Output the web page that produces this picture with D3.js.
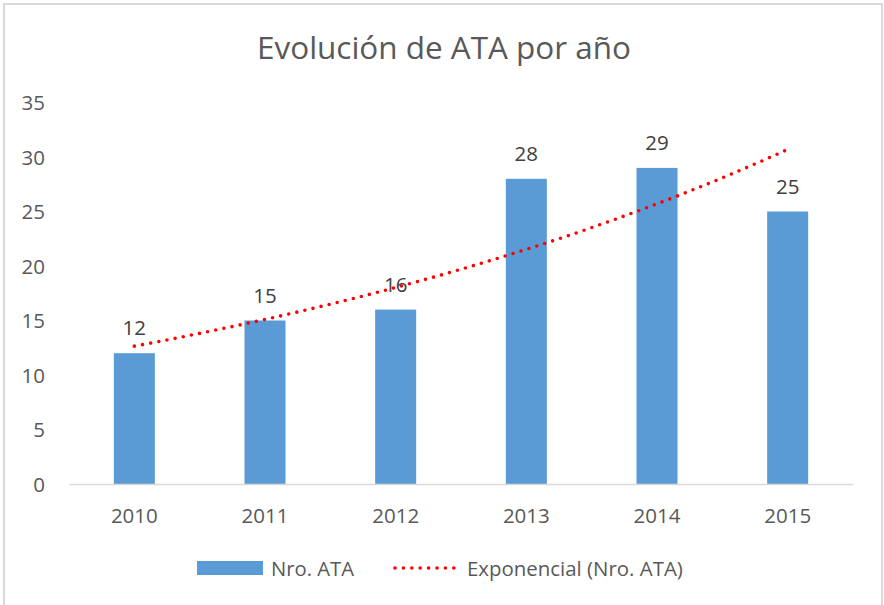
<!DOCTYPE html>
<html>
<head>
<meta charset="utf-8">
<script src="https://cdn.jsdelivr.net/npm/d3@7"></script>
<style>
  html, body { margin: 0; padding: 0; background: #fff; }
  svg { display: block; }
  text { font-family: "Open Sans", "Noto Sans", sans-serif; }
</style>
</head>
<body>
<svg id="chart" width="884" height="605"></svg>
<script>
const title = "Evolución de ATA por año";
const categories = ["2010", "2011", "2012", "2013", "2014", "2015"];
const values = [12, 15, 16, 28, 29, 25];
const yTicks = [0, 5, 10, 15, 20, 25, 30, 35];
const seriesName = "Nro. ATA";
const trendName = "Exponencial (Nro. ATA)";

const svg = d3.select("#chart");
const plot = { left: 69, right: 853, top: 102.5, bottom: 484 };

// outer border
svg.append("rect")
  .attr("x", 4).attr("y", 4).attr("width", 878).attr("height", 610)
  .attr("fill", "#fff").attr("stroke", "#d9d9d9").attr("stroke-width", 2);

const x = d3.scaleBand().domain(categories).range([plot.left, plot.right]).padding(0);
const y = d3.scaleLinear().domain([0, 35]).range([plot.bottom, plot.top]);

function fit(sel, target) {
  const node = sel.node();
  const fs = parseFloat(sel.attr("font-size"));
  const w = node.getComputedTextLength();
  if (w > 0) sel.attr("font-size", (fs * target / w).toFixed(2));
  return sel;
}

// title
const t = svg.append("text")
  .attr("x", 444).attr("y", 59)
  .attr("text-anchor", "middle")
  .attr("font-size", 30)
  .attr("fill", "#595959")
  .text(title);
fit(t, 374);

// y axis labels
const yAxis = d3.axisLeft(y).tickValues(yTicks).tickSize(0).tickPadding(0);
const gy = svg.append("g").attr("transform", `translate(45,0)`).call(yAxis);
gy.select(".domain").remove();
gy.selectAll("text")
  .attr("font-size", 20.5)
  .attr("fill", "#595959")
  .attr("font-family", "'Open Sans', sans-serif")
  .attr("dy", "0.35em");

// bars
const barW = x.bandwidth() * 0.314;
svg.append("g").selectAll("rect")
  .data(values)
  .join("rect")
  .attr("x", (d, i) => x(categories[i]) + (x.bandwidth() - barW) / 2)
  .attr("y", d => y(d))
  .attr("width", barW)
  .attr("height", d => y(0) - y(d))
  .attr("fill", "#5b9bd5");

// x axis
const xAxis = d3.axisBottom(x).tickSize(0).tickPadding(0);
const gx = svg.append("g").attr("transform", `translate(0,${plot.bottom})`).call(xAxis);
gx.select(".domain").attr("stroke", "#d9d9d9").attr("stroke-width", 1.5);
gx.selectAll("text")
  .attr("font-size", 20.5)
  .attr("fill", "#595959")
  .attr("font-family", "'Open Sans', sans-serif")
  .attr("dy", null)
  .attr("y", 39);

// exponential trendline (least squares fit on ln(y))
const n = values.length;
const xs = values.map((d, i) => i + 1);
const ls = values.map(d => Math.log(d));
const mx = d3.mean(xs), ml = d3.mean(ls);
const b = d3.sum(xs, (xi, i) => (xi - mx) * (ls[i] - ml)) / d3.sum(xs, xi => (xi - mx) ** 2);
const a = Math.exp(ml - b * mx);
const xc = d3.scaleLinear().domain([1, n])
  .range([x(categories[0]) + x.bandwidth() / 2, x(categories[n - 1]) + x.bandwidth() / 2]);
const trendPts = d3.range(1, n + 0.001, 0.05).map(t => [xc(t), y(a * Math.exp(b * t))]);
svg.append("path")
  .attr("d", d3.line()(trendPts))
  .attr("fill", "none")
  .attr("stroke", "#ff0000")
  .attr("stroke-width", 3.6)
  .attr("stroke-linecap", "round")
  .attr("stroke-dasharray", "0 8.3");

// data labels
svg.append("g").selectAll("text")
  .data(values)
  .join("text")
  .attr("x", (d, i) => x(categories[i]) + x.bandwidth() / 2)
  .attr("y", d => y(d) - 18)
  .attr("text-anchor", "middle")
  .attr("font-size", 20.5)
  .attr("fill", "#404040")
  .text(d => d);

// legend
const lg = svg.append("g");
lg.append("rect").attr("x", 197).attr("y", 561).attr("width", 66).attr("height", 14).attr("fill", "#5b9bd5");
const l1 = lg.append("text").attr("x", 271).attr("y", 576).attr("font-size", 20).attr("fill", "#595959").text(seriesName);
fit(l1, 83);
lg.append("line")
  .attr("x1", 395).attr("x2", 455).attr("y1", 568).attr("y2", 568)
  .attr("stroke", "#ff0000").attr("stroke-width", 3.6)
  .attr("stroke-linecap", "round").attr("stroke-dasharray", "0 8.4");
const l2 = lg.append("text").attr("x", 467).attr("y", 576).attr("font-size", 20).attr("fill", "#595959").text(trendName);
fit(l2, 216);
</script>
</body>
</html>
